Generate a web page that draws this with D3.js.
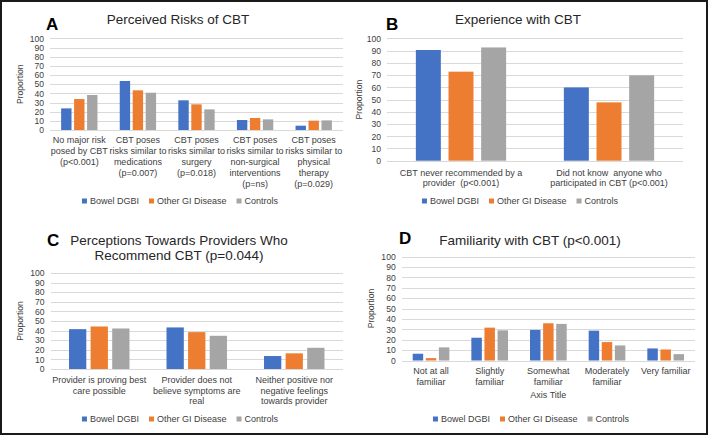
<!DOCTYPE html>
<meta charset="utf-8">
<style>
  body { margin: 0; background: #fff; }
  svg { display: block; font-family: "Liberation Sans", Arial, sans-serif; }
  .grid line { stroke: #d9d9d9; stroke-width: 1; shape-rendering: crispEdges; }
  .grid text { font-size: 8.6px; fill: #404040; }
  .cat { font-size: 9px; fill: #404040; white-space: pre; }
  .ytitle { font-size: 8.6px; fill: #404040; }
  .title { font-size: 13.5px; fill: #262626; }
  .letter { font-size: 17px; font-weight: bold; fill: #000; }
  .legend text { font-size: 9px; fill: #404040; }
</style>
<body>
<svg width="709" height="436"></svg>
<script src="https://cdn.jsdelivr.net/npm/d3@7"></script>
<script>
var seriesNames = ["Bowel DGBI", "Other GI Disease", "Controls"];
var seriesColors = ["#4472c4", "#ed7d31", "#a5a5a5"];
var yTicks = [0, 10, 20, 30, 40, 50, 60, 70, 80, 90, 100];

// A - perceived risks
var riskCats = [
  ["No major risk", "posed by CBT", "(p<0.001)"],
  ["CBT poses", "risks similar to", "medications", "(p=0.007)"],
  ["CBT poses", "risks similar to", "surgery", "(p=0.018)"],
  ["CBT poses", "risks similar to", "non-surgical", "interventions", "(p=ns)"],
  ["CBT poses", "risks similar to", "physical", "therapy", "(p=0.029)"]
];
var riskBowel = [23.6, 53.5, 32.4, 10.9, 4.7];
var riskOther = [33.8, 43.3, 28.0, 13.1, 10.2];
var riskControls = [38.2, 40.7, 22.5, 11.6, 10.5];

// B - experience
var expCats = [
  ["CBT never recommended by a", "provider  (p<0.001)"],
  ["Did not know  anyone who", "participated in CBT (p<0.001)"]
];
var expBowel = [90.5, 59.9];
var expOther = [72.8, 47.7];
var expControls = [92.6, 69.8];

// C - perceptions towards providers
var percCats = [
  ["Provider is proving best", "care possible"],
  ["Provider does not", "believe symptoms are", "real"],
  ["Neither positive nor", "negative feelings", "towards provider"]
];
var percBowel = [41.5, 43.3, 13.5];
var percOther = [44.3, 38.4, 16.3];
var percControls = [42.2, 34.6, 22.1];

// D - familiarity
var famCats = [
  ["Not at all", "familiar"],
  ["Slightly", "familiar"],
  ["Somewhat", "familiar"],
  ["Moderately", "familiar"],
  ["Very familiar"]
];
var famBowel = [6.5, 21.9, 29.4, 28.7, 11.6];
var famOther = [2.3, 31.6, 35.8, 17.7, 10.6];
var famControls = [12.6, 29.0, 35.2, 14.5, 6.1];

var svg = d3.select("svg");

svg.append("rect")
  .attr("x", 1).attr("y", 1)
  .attr("width", 706).attr("height", 433)
  .attr("fill", "none")
  .attr("stroke", "#1a1a1a")
  .attr("stroke-width", 2);

function panel(o) {
  var g = svg.append("g");
  var y = d3.scaleLinear().domain([0, 100]).range([o.bottom, o.top]);
  var x = d3.scaleBand().domain(d3.range(o.cats.length)).range([o.left, o.right]);
  var bw = x.bandwidth();
  var inset = bw * (1 - o.groupFrac) / 2;
  var xs = d3.scaleBand().domain(seriesNames).range([inset, bw - inset]).paddingInner(o.pad);

  // gridlines + tick labels
  var ax = g.append("g")
    .attr("class", "grid")
    .attr("transform", "translate(" + o.left + ",0)")
    .call(d3.axisLeft(y).tickValues(yTicks).tickSize(-(o.right - o.left)).tickPadding(6));
  ax.select(".domain").remove();

  var series = [o.vals[0], o.vals[1], o.vals[2]];
  series.forEach(function (vals, si) {
    g.selectAll(".bar" + si)
      .data(vals)
      .enter().append("rect")
      .attr("x", function (d, i) { return x(i) + xs(seriesNames[si]); })
      .attr("y", function (d) { return y(d); })
      .attr("width", xs.bandwidth())
      .attr("height", function (d) { return y(0) - y(d); })
      .attr("fill", seriesColors[si]);
  });

  // category labels
  var cl = g.selectAll(".cat")
    .data(o.cats)
    .enter().append("text")
    .attr("class", "cat")
    .attr("text-anchor", "middle")
    .attr("y", o.bottom + o.catOffset);
  cl.each(function (lines, i) {
    d3.select(this).selectAll("tspan")
      .data(lines)
      .enter().append("tspan")
      .attr("x", x(i) + bw / 2)
      .attr("dy", function (d, j) { return j === 0 ? 0 : o.lineH; })
      .text(function (d) { return d; });
  });

  // axis title
  g.append("text")
    .attr("class", "ytitle")
    .attr("text-anchor", "middle")
    .attr("transform", "translate(" + o.yTitleX + "," + (o.top + o.bottom) / 2 + ") rotate(-90)")
    .text("Proportion");

  if (o.xTitle) {
    g.append("text")
      .attr("class", "cat")
      .attr("text-anchor", "middle")
      .attr("x", (o.left + o.right) / 2)
      .attr("y", o.xTitleY)
      .text(o.xTitle);
  }

  // title
  var t = g.append("text")
    .attr("class", "title")
    .attr("text-anchor", "middle")
    .attr("y", o.titleY);
  t.selectAll("tspan")
    .data(o.title)
    .enter().append("tspan")
    .attr("x", o.titleX)
    .attr("dy", function (d, j) { return j === 0 ? 0 : 15; })
    .text(function (d) { return d; });

  g.append("text")
    .attr("class", "letter")
    .attr("x", o.letterX)
    .attr("y", o.letterY)
    .text(o.letter);

  // legend
  var lg = g.append("g").attr("class", "legend");
  var items = lg.selectAll("g")
    .data(seriesNames)
    .enter().append("g");
  items.append("rect")
    .attr("width", 5).attr("height", 5)
    .attr("y", -2.5)
    .attr("fill", function (d, i) { return seriesColors[i]; });
  items.append("text")
    .attr("x", 8)
    .attr("dy", "0.35em")
    .text(function (d) { return d; });
  var pos = 0;
  items.each(function () {
    var w = 8 + this.querySelector("text").getComputedTextLength();
    d3.select(this).attr("transform", "translate(" + pos + ",0)");
    pos += w + 10;
  });
  pos -= 10;
  lg.attr("transform", "translate(" + (o.legendX - pos / 2) + "," + o.legendY + ")");
}

panel({
  letter: "A", title: ["Perceived Risks of CBT"],
  cats: riskCats, vals: [riskBowel, riskOther, riskControls],
  left: 50, right: 343, top: 38.4, bottom: 130,
  groupFrac: 0.62, pad: 0.2, catOffset: 12.5, lineH: 11,
  yTitleX: 23, titleX: 178, titleY: 24, letterX: 46, letterY: 30,
  legendX: 180, legendY: 201
});

panel({
  letter: "B", title: ["Experience with CBT"],
  cats: expCats, vals: [expBowel, expOther, expControls],
  left: 387, right: 683, top: 38.4, bottom: 160.7,
  groupFrac: 0.61, pad: 0.235, catOffset: 15, lineH: 10.5,
  yTitleX: 362, titleX: 518, titleY: 24, letterX: 386, letterY: 30,
  legendX: 520, legendY: 201
});

panel({
  letter: "C", title: ["Perceptions Towards Providers Who", "Recommend CBT (p=0.044)"],
  cats: percCats, vals: [percBowel, percOther, percControls],
  left: 50.5, right: 343, top: 273, bottom: 369,
  groupFrac: 0.62, pad: 0.2, catOffset: 14, lineH: 10.5,
  yTitleX: 23, titleX: 179, titleY: 245, letterX: 47, letterY: 246,
  legendX: 180, legendY: 419
});

panel({
  letter: "D", title: ["Familiarity with CBT (p<0.001)"],
  cats: famCats, vals: [famBowel, famOther, famControls],
  left: 401.7, right: 695, top: 256.5, bottom: 360.5,
  groupFrac: 0.625, pad: 0.2, catOffset: 13.5, lineH: 10.5,
  xTitle: "Axis Title", xTitleY: 398,
  yTitleX: 374, titleX: 530, titleY: 245, letterX: 399, letterY: 244,
  legendX: 531, legendY: 419
});
</script>
</body>
